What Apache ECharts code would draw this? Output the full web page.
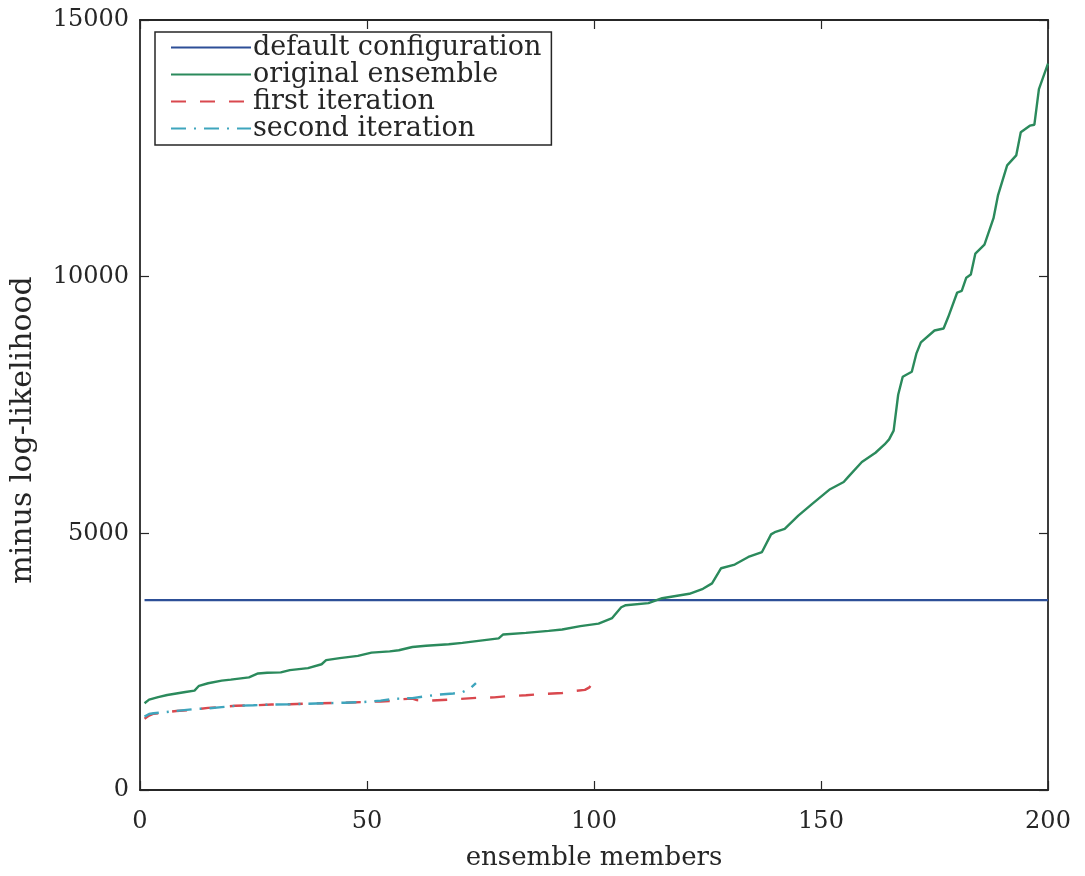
<!DOCTYPE html>
<html>
<head>
<meta charset="utf-8">
<title>minus log-likelihood of ensemble members</title>
<script src="https://cdn.jsdelivr.net/npm/echarts@6/dist/echarts.min.js"></script>
<style>
  html, body { margin: 0; padding: 0; background: #ffffff; }
  #chart { width: 1085px; height: 876px; }
</style>
</head>
<body>
<div id="chart"></div>
<script>
// Sorted minus log-likelihood per ensemble member (member index, value)
const defaultMembers = [1, 200];
const defaultValues = [3700, 3700];

const originalMembers = [1, 2, 4, 6, 8, 10, 12, 13, 15, 18, 20, 24, 26, 28, 31, 33, 37, 40, 41, 44,
  48, 51, 55, 57, 60, 63, 68, 71, 75, 79, 80, 85, 90, 93, 97, 101, 104, 106, 107, 112,
  115, 118, 121, 124, 126, 128, 131, 134, 137, 139, 140, 142, 145, 148, 152, 155, 156, 159, 162, 164,
  165, 166, 167, 168, 170, 171, 172, 175, 177, 178, 180, 181, 182, 183, 184, 186, 188, 189, 191, 193,
  194, 196, 197, 198, 200];
const originalValues = [1690, 1760, 1810, 1850, 1880, 1910, 1936, 2030, 2080, 2130, 2150, 2195, 2270, 2285, 2291, 2336, 2374, 2450, 2529, 2570,
  2612, 2677, 2700, 2722, 2786, 2810, 2838, 2866, 2910, 2953, 3030, 3060, 3100, 3127, 3192, 3240, 3349, 3560, 3600, 3640,
  3736, 3780, 3822, 3920, 4025, 4320, 4392, 4540, 4636, 4980, 5030, 5087, 5344, 5570, 5860, 6000, 6100, 6390, 6570, 6731,
  6830, 7000, 7700, 8050, 8147, 8500, 8720, 8951, 8990, 9208, 9691, 9723, 9980, 10044, 10450, 10624, 11139, 11590, 12169, 12362,
  12813, 12941, 12960, 13655, 14150];

const firstMembers = [1, 2, 3, 5, 8, 11, 15, 18, 21, 25, 29, 33, 36, 40, 45, 49, 53, 57, 58, 60,
  61, 64, 68, 74, 78, 81, 85, 89, 93, 95, 98, 99, 100];
const firstValues = [1390, 1450, 1486, 1505, 1540, 1555, 1600, 1616, 1640, 1650, 1665, 1670, 1680, 1690, 1700, 1712, 1725, 1740, 1770, 1780,
  1750, 1743, 1760, 1795, 1805, 1828, 1845, 1872, 1890, 1924, 1950, 2000, 2110];

const secondMembers = [1, 2, 3, 5, 8, 12, 15, 18, 21, 25, 29, 33, 37, 41, 45, 49, 53, 56, 60, 63,
  66, 69, 71, 72, 73, 74];
const secondValues = [1430, 1480, 1495, 1510, 1540, 1577, 1590, 1615, 1640, 1650, 1665, 1670, 1680, 1690, 1700, 1712, 1740, 1776, 1790, 1828,
  1860, 1880, 1905, 1950, 2000, 2080];

const seriesNames = ['default configuration', 'original ensemble', 'first iteration', 'second iteration'];
const xTicks = { min: 0, max: 200, interval: 50 };
const yTicks = { min: 0, max: 15000, interval: 5000 };

const pairs = (xs, ys) => xs.map((x, i) => [x, ys[i]]);

const FONT = '"DejaVu Serif", "Liberation Serif", serif';
const INK = '#262626';

// Boxed frame: every side carries a line and inward ticks
const frameAxis = (extra) => Object.assign({
  type: 'value',
  axisLine: { show: true, onZero: false, lineStyle: { color: INK, width: 1.8 } },
  axisTick: { show: true, inside: true, length: 9, lineStyle: { color: INK, width: 1.2 } },
  splitLine: { show: false }
}, extra);

const chart = echarts.init(document.getElementById('chart'), null, { renderer: 'canvas' });
chart.setOption({
  backgroundColor: '#ffffff',
  animation: false,
  grid: { left: 140, right: 37, top: 20, bottom: 79, containLabel: false },
  legend: {
    data: seriesNames,
    orient: 'vertical',
    left: 155,
    top: 32,
    padding: [2, 10, 3, 15],
    itemGap: 0,
    itemWidth: 80,
    itemHeight: 14,
    borderColor: INK,
    borderWidth: 1.5,
    backgroundColor: '#ffffff',
    itemStyle: { opacity: 0, borderWidth: 0 },
    textStyle: { fontFamily: FONT, fontSize: 27, lineHeight: 27, color: INK, padding: [0, 0, 0, -3] }
  },
  xAxis: [
    frameAxis(Object.assign({
      position: 'bottom',
      name: 'ensemble members',
      nameLocation: 'middle',
      nameGap: 55,
      nameTextStyle: { fontFamily: FONT, fontSize: 26, color: INK },
      axisLabel: { show: true, fontFamily: FONT, fontSize: 24, color: INK, margin: 20,
        formatter: (v) => String(v) }
    }, xTicks)),
    frameAxis(Object.assign({ position: 'top', axisLabel: { show: false } }, xTicks))
  ],
  yAxis: [
    frameAxis(Object.assign({
      position: 'left',
      name: 'minus log-likelihood',
      nameLocation: 'middle',
      nameGap: 102,
      nameTextStyle: { fontFamily: FONT, fontSize: 30, color: INK, padding: [0, 50, 0, 0] },
      axisLabel: { show: true, fontFamily: FONT, fontSize: 24, color: INK, margin: 11,
        formatter: (v) => String(v) }
    }, yTicks)),
    frameAxis(Object.assign({ position: 'right', axisLabel: { show: false } }, yTicks))
  ],
  series: [
    {
      name: seriesNames[0], type: 'line', symbol: 'none', z: 3,
      data: pairs(defaultMembers, defaultValues),
      lineStyle: { color: '#2d4f97', width: 2.2 }, itemStyle: { color: '#2d4f97' }
    },
    {
      name: seriesNames[1], type: 'line', symbol: 'none', z: 4,
      data: pairs(originalMembers, originalValues),
      lineStyle: { color: '#2b8a5c', width: 2.4 }, itemStyle: { color: '#2b8a5c' }
    },
    {
      name: seriesNames[2], type: 'line', symbol: 'none', z: 5,
      data: pairs(firstMembers, firstValues),
      lineStyle: { color: '#d9484e', width: 2.4, type: [15, 14] }, itemStyle: { color: '#d9484e' }
    },
    {
      name: seriesNames[3], type: 'line', symbol: 'none', z: 6,
      data: pairs(secondMembers, secondValues),
      lineStyle: { color: '#3ea5bd', width: 2.4, type: [15, 8, 2, 8] }, itemStyle: { color: '#3ea5bd' }
    }
  ]
});
</script>
</body>
</html>
